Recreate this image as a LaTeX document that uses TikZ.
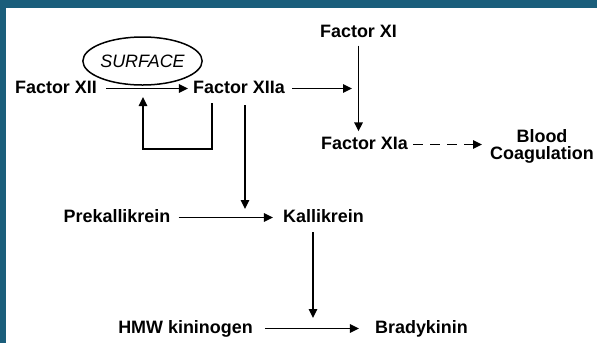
\documentclass[tikz,border=0pt]{standalone}
\usepackage{fontspec}
\setmainfont{Liberation Sans}
\usepackage{tikz}
\usetikzlibrary{arrows.meta,positioning,calc,shapes.geometric}
\definecolor{frameblue}{HTML}{1A5E7B}
\tikzset{
  factor/.style  = {font=\fontsize{18}{17}\selectfont\bfseries,anchor=base,
                    inner sep=5bp,text height=12.5bp,text depth=3.5bp},
  outcome/.style = {font=\fontsize{18}{17}\selectfont\bfseries,align=center,
                    inner sep=5bp},
  surf/.style    = {draw,ellipse,line width=1.5bp,minimum width=105bp,
                    minimum height=48bp,inner sep=0pt,
                    font=\fontsize{18}{18}\selectfont\itshape},
  sig/.style     = {-{Triangle[length=9bp,width=8.5bp]},line width=1.6bp},
  dsig/.style    = {sig,dash pattern=on 10bp off 7bp},
}

\begin{document}
\begin{tikzpicture}[x=1bp,y=-1bp]
  \useasboundingbox (0,0) rectangle (597,343);
  \fill[frameblue] (0,0) rectangle (597,343);
  \fill[white] (5.5,8) rectangle (597,343);

  % contact activation
  \node[factor] (f12)  at (56,93)    {Factor XII};
  \node[factor] (f12a) at (239,93)   {Factor XIIa};
  \node[factor] (f11)  at (358.5,37) {Factor XI};
  \node[factor] (f11a) at (364.5,149) {Factor XIa};
  \node[outcome] (blood) at (542,146) {Blood\\Coagulation};

  % kinin branch
  \node[factor] (prek)  at (117,222)   {Prekallikrein};
  \node[factor] (kall)  at (323.5,222) {Kallikrein};
  \node[factor] (hmw)   at (185.5,333) {HMW kininogen};
  \node[factor] (brady) at (421.5,333) {Bradykinin};

  % free arrow ends that point at other arrows
  \coordinate (loopend) at (143,97);
  \coordinate (xijoin)  at (352,87);
  \coordinate (kdrop)   at (245,209);
  \coordinate (bkdrop)  at (313,318);

  \draw[sig,shorten <=4bp] (f12.east) -- (f12a.west);
  \node[surf] (surface) at (142.5,61) {SURFACE};

  % feedback of XIIa onto its own activation
  \draw[sig] ([xshift=-27bp,yshift=-1.5bp]f12a.south) -- ++(0,46) -| (loopend);
  \draw[sig] ([xshift=6bp,yshift=-3.5bp]f12a.south) -- (kdrop);
  \draw[sig,shorten <=2bp] (f12a.east) -- (f12a.east -| xijoin);

  \draw[sig] (f11.south) -- (f11.south |- f11a.north);
  \draw[dsig,shorten >=3bp] (f11a.east) -- (f11a.east -| blood.west);

  \draw[sig,shorten <=3bp,shorten >=5bp] (prek.east) -- (kall.west);
  \draw[sig] ([xshift=-10.5bp,yshift=-1.5bp]kall.south) -- (bkdrop);
  \draw[sig,shorten <=7bp,shorten >=11bp] (hmw.east) -- (brady.west);
\end{tikzpicture}
\end{document}
